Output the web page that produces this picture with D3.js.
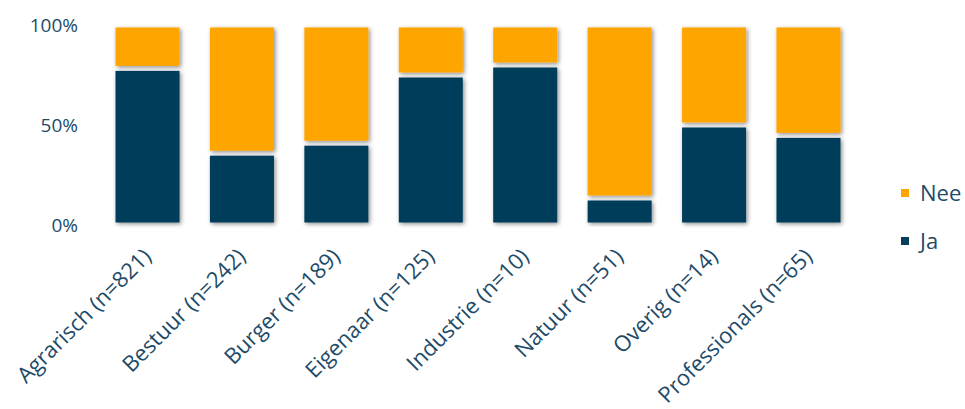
<!DOCTYPE html>
<html><head><meta charset="utf-8">
<script src="https://cdn.jsdelivr.net/npm/d3@7/dist/d3.min.js"></script>
<style>body{margin:0;background:#fff}svg{display:block}</style>
</head><body>
<svg id="c" width="965" height="409"></svg>
<script>
const categories = ["Agrarisch (n=821)","Bestuur (n=242)","Burger (n=189)","Eigenaar (n=125)","Industrie (n=10)","Natuur (n=51)","Overig (n=14)","Professionals (n=65)"];
const ja = [78.3, 35.9, 40.9, 75.0, 80.0, 13.5, 50.0, 44.8];
const nee = ja.map(v => 100 - v);
const seriesNames = ["Ja","Nee"];
const yTicks = [0, 50, 100];

const colors = {Ja:"#023e5a", Nee:"#ffa500"};
const textColor = "#1d4b68";
const font = "'Open Sans', sans-serif";

const svg = d3.select("#c");
const defs = svg.append("defs");
const f = defs.append("filter").attr("id","sh").attr("x","-20%").attr("y","-20%").attr("width","140%").attr("height","140%");
f.append("feDropShadow").attr("dx",1.5).attr("dy",1.5).attr("stdDeviation",2).attr("flood-color","#000").attr("flood-opacity",0.45);

const x = d3.scaleBand().domain(categories).range([100.3, 855.7]).paddingInner(0.322).paddingOuter(0.161);
const y = d3.scaleLinear().domain([0,100]).range([225, 25]);

const data = categories.map((c,i)=>({c, Ja:ja[i], Nee:nee[i]}));
const stack = d3.stack().keys(seriesNames)(data);
const inset = 2.5;

svg.append("g").selectAll("g").data(stack).join("g")
  .attr("fill", d => colors[d.key])
  .selectAll("rect").data(d => d).join("rect")
  .attr("filter","url(#sh)")
  .attr("x", d => x(d.data.c))
  .attr("width", x.bandwidth())
  .attr("y", d => y(d[1]) + inset)
  .attr("height", d => Math.max(0, y(d[0]) - y(d[1]) - 2*inset));

// y axis labels
svg.append("g").selectAll("text").data(yTicks).join("text")
  .attr("x", 78).attr("y", d => y(d)).attr("dy","0.35em")
  .attr("text-anchor","end").attr("fill",textColor)
  .style("font-family",font).style("font-size","19px")
  .text(d => d + "%");

// x labels
svg.append("g").selectAll("text").data(categories).join("text")
  .attr("transform", d => `translate(${x(d)+x.bandwidth()/2+5},${258}) rotate(-45)`)
  .attr("text-anchor","end").attr("fill",textColor)
  .style("font-family",font).style("font-size","22px")
  .text(d => d);

// legend
const leg = svg.append("g");
const legItems = [{k:"Nee", y:193},{k:"Ja", y:241}];
leg.selectAll("rect").data(legItems).join("rect")
  .attr("x",901).attr("y",d=>d.y-4).attr("width",8).attr("height",8)
  .attr("fill",d=>colors[d.k]);
leg.selectAll("text").data(legItems).join("text")
  .attr("x",920).attr("y",d=>d.y).attr("dy","0.35em")
  .attr("fill",textColor).style("font-family",font).style("font-size","22px")
  .text(d=>d.k);
</script>
</body></html>
